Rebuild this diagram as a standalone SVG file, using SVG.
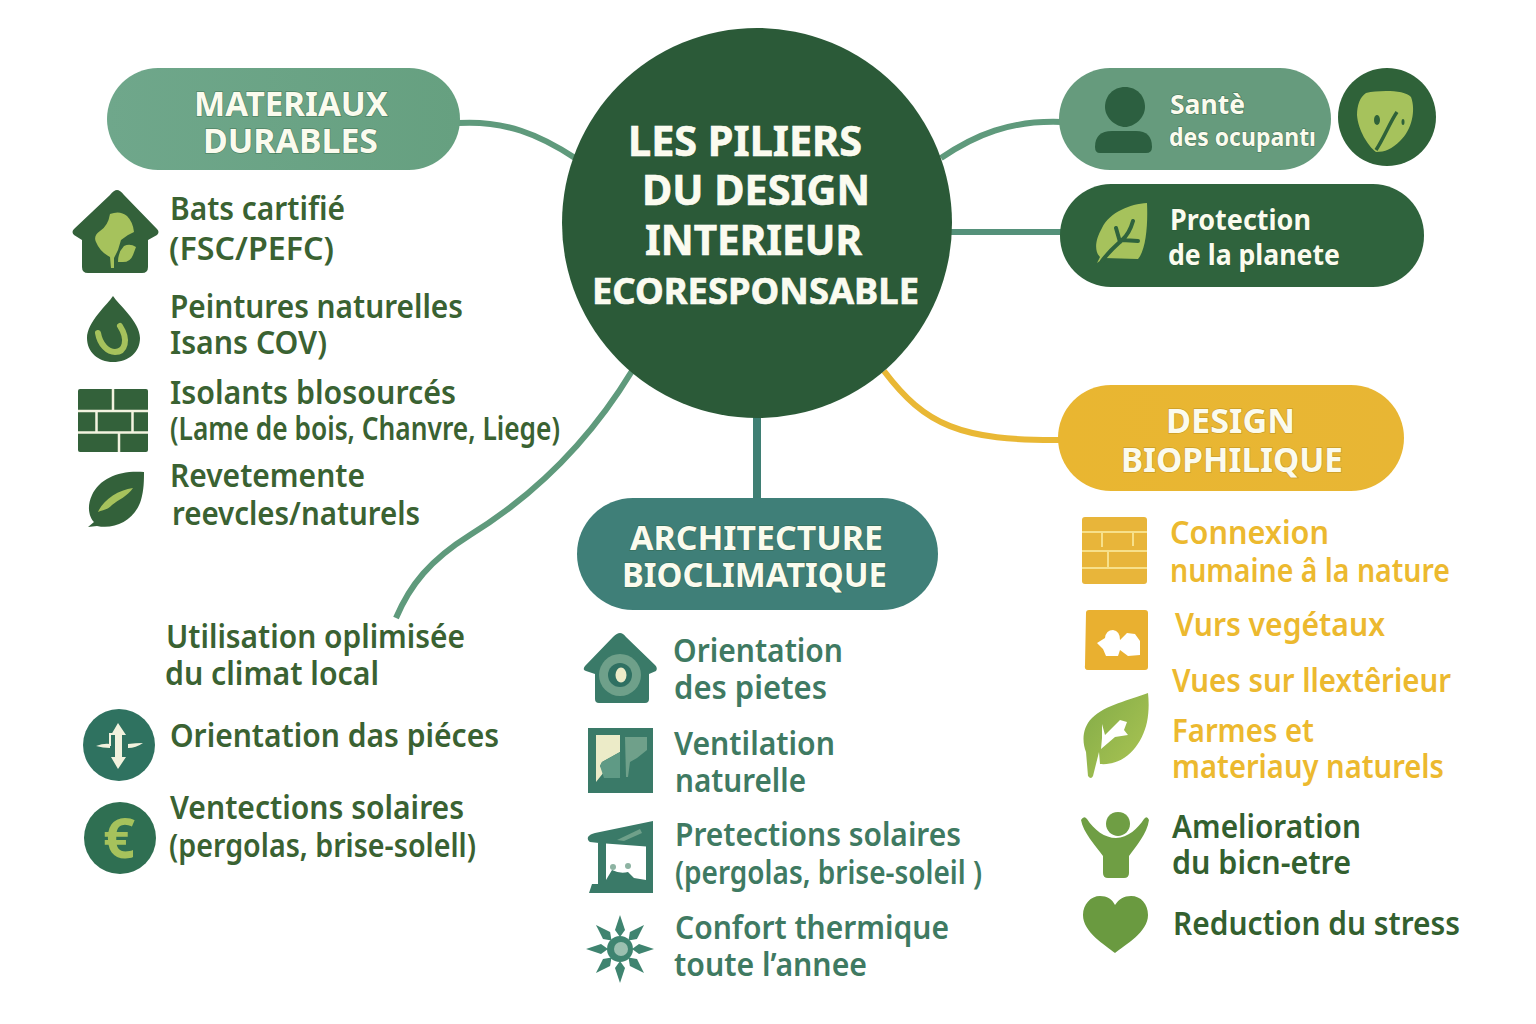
<svg xmlns="http://www.w3.org/2000/svg" width="1536" height="1024" viewBox="0 0 1536 1024">
<style>
text{font-family:"Noto Sans","Open Sans","Liberation Sans",sans-serif;font-weight:600}
.g{fill:#3a6232;font-size:32px}
.t{fill:#3f7a62;font-size:32px}
.y{fill:#ecb92f;font-size:32px}
.d{fill:#33602f;font-size:32px}
.p{fill:#fbfbee;font-size:34px;font-weight:700;stroke:#2c5a3a;stroke-opacity:.45;stroke-width:1.4px;paint-order:stroke}
.s{fill:#fbfbee;font-weight:700;stroke:#23502f;stroke-opacity:.5;stroke-width:1.2px;paint-order:stroke}
.c{fill:#fbfbee;font-weight:700;stroke:#fff;stroke-width:.6px}
.con{fill:none;stroke-linecap:butt}
.lt{fill:#a6c25c}
.dg{fill:#33613a}
.tl{fill:#3a7a68}
</style>
<defs>
<linearGradient id="sage" x1="0" y1="0" x2="1" y2="0"><stop offset="0" stop-color="#6fa78b"/><stop offset="1" stop-color="#66a080"/></linearGradient>
<linearGradient id="yel" x1="0" y1="0" x2="1" y2="0"><stop offset="0" stop-color="#e9b631"/><stop offset="1" stop-color="#e8b634"/></linearGradient>
<linearGradient id="leaf" x1="0" y1="0" x2="1" y2="1"><stop offset="0" stop-color="#82ab48"/><stop offset="1" stop-color="#adc653"/></linearGradient>
</defs>

<g id="connectors">
<path class="con" stroke="#5f9a7c" stroke-width="6" d="M458 123C505 120 540 135 575 158"/>
<path class="con" stroke="#5f9a7c" stroke-width="6" d="M941 158C975 135 1010 120 1062 122"/>
<path class="con" stroke="#55917a" stroke-width="6" d="M950 232H1062"/>
<path class="con" stroke="#e9b835" stroke-width="6" d="M884 371C925 425 960 441 1062 440"/>
<path class="con" stroke="#3f7f74" stroke-width="8" d="M757 416V500"/>
<path class="con" stroke="#5f9a7c" stroke-width="6" d="M632 371C590 440 535 495 470 535C430 560 410 585 396 618"/>
</g>

<g id="center">
<circle cx="757" cy="223" r="195" fill="#2b5a38"/>
<text class="c" x="628" y="156" font-size="42" textLength="234" lengthAdjust="spacingAndGlyphs">LES PILIERS</text>
<text class="c" x="642" y="205" font-size="42" textLength="228" lengthAdjust="spacingAndGlyphs">DU DESIGN</text>
<text class="c" x="645" y="255" font-size="42" textLength="217" lengthAdjust="spacingAndGlyphs">INTERIEUR</text>
<text class="c" x="592" y="304" font-size="36" textLength="327" lengthAdjust="spacingAndGlyphs">ECORESPONSABLE</text>
</g>

<g id="materiaux">
<rect x="107" y="68" width="353" height="102" rx="51" fill="url(#sage)"/>
<text class="p" x="194" y="116" textLength="194" lengthAdjust="spacingAndGlyphs">MATERIAUX</text>
<text class="p" x="203" y="153" textLength="175" lengthAdjust="spacingAndGlyphs">DURABLES</text>
</g>

<g id="sante">
<rect x="1059" y="68" width="272" height="102" rx="51" fill="#669b7d"/>
<path d="M1125 87C1137 87 1145 96 1145 107C1145 118 1134 127 1125 127C1116 127 1105 118 1105 107C1105 96 1113 87 1125 87Z" fill="#2c5f40"/>
<path d="M1095 147Q1095 131 1112 131H1136Q1152 131 1152 147Q1152 153 1146 153H1100Q1095 153 1095 147Z" fill="#2c5f40"/>
<text class="s" x="1170" y="114" font-size="26" textLength="75" lengthAdjust="spacingAndGlyphs">Santè</text>
<text class="s" x="1169" y="146" font-size="25" textLength="147" lengthAdjust="spacingAndGlyphs">des ocupantı</text>
</g>

<g id="sante-badge">
<circle cx="1387" cy="117" r="49" fill="#2f6239"/>
<path class="lt" d="M1366 93C1380 90 1405 90 1411 97C1416 110 1412 130 1400 141C1392 149 1385 152 1376 152C1368 146 1358 130 1357 115C1357 105 1360 97 1366 93Z"/>
<path d="M1376 150C1384 138 1390 122 1397 112" stroke="#2f6239" stroke-width="3.5" fill="none"/>
<ellipse cx="1377" cy="120" rx="3" ry="5" fill="#2f6239"/>
<ellipse cx="1403" cy="122" rx="1.5" ry="3" fill="#2f6239"/>
</g>

<g id="protection">
<rect x="1060" y="184" width="364" height="103" rx="51" fill="#2f633d"/>
<path class="lt" d="M1147 203C1130 204 1110 212 1102 228C1094 242 1095 252 1100 257L1097 263L1104 258L1138 259C1146 250 1148 225 1147 203Z"/>
<path d="M1102 261C1110 250 1118 244 1122 240C1128 235 1131 228 1133 221M1122 240L1138 241M1120 242L1116 228" stroke="#2f633d" stroke-width="4" stroke-linecap="round" fill="none"/>
<text class="s" x="1170" y="230" font-size="29" textLength="141" lengthAdjust="spacingAndGlyphs">Protection</text>
<text class="s" x="1168" y="265" font-size="29" textLength="172" lengthAdjust="spacingAndGlyphs">de la planete</text>
</g>

<g id="biophilique">
<rect x="1058" y="385" width="346" height="106" rx="53" fill="url(#yel)"/>
<text class="p" x="1166" y="433" font-size="35" textLength="129" lengthAdjust="spacingAndGlyphs" style="stroke:#a67c1c">DESIGN</text>
<text class="p" x="1121" y="472" font-size="35" textLength="222" lengthAdjust="spacingAndGlyphs" style="stroke:#a67c1c">BIOPHILIQUE</text>
</g>

<g id="architecture">
<rect x="577" y="498" width="361" height="112" rx="56" fill="#3f7f78"/>
<text class="p" x="630" y="550" textLength="253" lengthAdjust="spacingAndGlyphs">ARCHITECTURE</text>
<text class="p" x="622" y="587" textLength="265" lengthAdjust="spacingAndGlyphs">BIOCLIMATIQUE</text>
</g>

<g id="item-bats">
<path class="dg" d="M117 190Q114 190 110 195L74 229Q71 232 74 235L82 240V267Q82 273 88 273H142Q148 273 148 267V240L157 235Q160 232 157 229L124 195Q120 190 117 190Z"/>
<path class="lt" d="M110 214Q120 210 127 216Q133 222 134 232L128 235L121 240L118 250L114 258V268H111L110 257Q100 252 96 242Q93 236 100 231Q108 226 110 214Z"/>
<path class="lt" d="M124 246Q130 243 136 247L133 255Q130 263 121 262L118 262Q118 252 124 246Z"/>
<text class="g" x="170" y="220" textLength="175" lengthAdjust="spacingAndGlyphs">Bats cartifié</text>
<text class="g" x="169" y="260" textLength="165" lengthAdjust="spacingAndGlyphs">(FSC/PEFC)</text>
</g>
<g id="item-peintures">
<path class="dg" d="M113 296C108 304 87 322 87 338C87 352 98 362 113 362C129 362 140 352 140 338C140 322 118 304 113 296Z"/>
<path d="M98 333C100 345 108 352 115 352C125 352 129 340 120 326" fill="none" stroke="#a6c25c" stroke-width="6" stroke-linecap="round"/>
<text class="g" x="170" y="318" textLength="293" lengthAdjust="spacingAndGlyphs">Peintures naturelles</text>
<text class="g" x="170" y="354" textLength="157" lengthAdjust="spacingAndGlyphs">Isans COV)</text>
</g>
<g id="item-isolants">
<rect x="78" y="389" width="70" height="63" rx="2" class="dg"/>
<path d="M78 411H148M78 432.500H148M113 389V411M96.500 411V432.500M132.500 411V432.500M119 432.500V452" stroke="#f3f3e0" stroke-width="2.500" fill="none"/>
<text class="g" x="170" y="404" textLength="286" lengthAdjust="spacingAndGlyphs">Isolants blosourcés</text>
<text class="g" x="170" y="440" font-size="30" textLength="390" lengthAdjust="spacingAndGlyphs">(Lame de bois, Chanvre, Liege)</text>
</g>
<g id="item-revetement">
<path class="dg" d="M144 472C120 470 100 478 92 495C86 508 90 518 94 522L88 527L97 526C115 530 135 520 141 500C144 490 144 480 144 472Z"/>
<path class="lt" d="M98 512C103 500 118 490 133 488C128 496 118 500 112 505C108 510 102 510 98 512Z"/>
<text class="g" x="170" y="487" textLength="195" lengthAdjust="spacingAndGlyphs">Revetemente</text>
<text class="g" x="172" y="525" textLength="248" lengthAdjust="spacingAndGlyphs">reevcles/naturels</text>
</g>

<g id="item-utilisation">
<text class="g" x="166" y="648" textLength="299" lengthAdjust="spacingAndGlyphs">Utilisation oplimisée</text>
<text class="g" x="165" y="685" textLength="214" lengthAdjust="spacingAndGlyphs">du climat local</text>
</g>
<g id="item-orientation-pieces">
<circle cx="119" cy="745" r="36" fill="#2f7260"/>
<path d="M118 723L111 735H115V757H111L118 769L126 757H122V735H126Z" fill="#f2f2de"/>
<path d="M96 746Q104 743 110 744V748Q103 748 96 746ZM128 744Q136 743 143 743Q136 748 128 748Z" fill="#f2f2de"/>
<path d="M110 746V734H115" fill="none" stroke="#f2f2de" stroke-width="2"/>
<text class="g" x="170" y="747" textLength="329" lengthAdjust="spacingAndGlyphs">Orientation das piéces</text>
</g>
<g id="item-ventections">
<circle cx="120" cy="838" r="36" fill="#2f6f52"/>
<text x="119" y="858" font-size="56" text-anchor="middle" fill="#a6c25c" style="font-weight:700">€</text>
<text class="g" x="170" y="819" textLength="294" lengthAdjust="spacingAndGlyphs">Ventections solaires</text>
<text class="g" x="169" y="857" textLength="307" lengthAdjust="spacingAndGlyphs">(pergolas, brise-solell)</text>
</g>

<g id="item-orientation">
<path class="tl" d="M620 633Q617 633 613 637L585 666Q582 670 586 671L595 674V699Q595 703 599 703H645Q649 703 649 699V674L656 671Q658 668 655 665L626 637Q623 633 620 633Z"/>
<circle cx="620" cy="675" r="21" fill="#6fa08a"/>
<circle cx="620" cy="675" r="12" fill="#2f7062"/>
<ellipse cx="621" cy="675" rx="5.500" ry="7.500" fill="#ecebc8"/>
<text class="t" x="673" y="662" textLength="170" lengthAdjust="spacingAndGlyphs">Orientation</text>
<text class="t" x="674" y="699" textLength="153" lengthAdjust="spacingAndGlyphs">des pietes</text>
</g>
<g id="item-ventilation">
<rect x="588" y="728" width="65" height="65" class="tl"/>
<path d="M596 735H620V752L602 762L600 766L604 772L596 782Z" fill="#ecebc8"/>
<path d="M620 752V778L604 778L600 766L602 762Z" fill="#5f9a85"/>
<path d="M625 737H647V750L637 758L630 762L628 777H626Z" fill="#6fa08a"/>
<text class="t" x="674" y="755" textLength="161" lengthAdjust="spacingAndGlyphs">Ventilation</text>
<text class="t" x="675" y="792" textLength="131" lengthAdjust="spacingAndGlyphs">naturelle</text>
</g>
<g id="item-protections">
<path class="tl" d="M588 837Q590 834 595 833L653 821V847L599 843L590 842Q587 840 588 837Z"/>
<path d="M617 840L640 829L642 833L624 841Z" fill="#6fa08a"/>
<path class="tl" d="M598 843H606V880H646V845H653V893H589L592 884H598Z"/>
<path d="M606 880L612 870Q620 874 628 872L634 878L646 880Z" fill="#3a7a68"/>
<circle cx="628" cy="866" r="3" fill="#8db3a2"/>
<circle cx="613" cy="867" r="3" fill="#8db3a2"/>
<text class="t" x="675" y="846" textLength="286" lengthAdjust="spacingAndGlyphs">Pretections solaires</text>
<text class="t" x="675" y="884" textLength="307" lengthAdjust="spacingAndGlyphs">(pergolas, brise-soleil )</text>
</g>
<g id="item-confort">
<g fill="#3f8470">
<path d="M620 915L625 930L620 937L615 930Z"/>
<path d="M620 915L625 930L620 937L615 930Z" transform="rotate(45 620 949)"/>
<path d="M620 915L625 930L620 937L615 930Z" transform="rotate(90 620 949)"/>
<path d="M620 915L625 930L620 937L615 930Z" transform="rotate(135 620 949)"/>
<path d="M620 915L625 930L620 937L615 930Z" transform="rotate(180 620 949)"/>
<path d="M620 915L625 930L620 937L615 930Z" transform="rotate(225 620 949)"/>
<path d="M620 915L625 930L620 937L615 930Z" transform="rotate(270 620 949)"/>
<path d="M620 915L625 930L620 937L615 930Z" transform="rotate(315 620 949)"/>
<circle cx="620" cy="949" r="13"/>
</g>
<circle cx="621" cy="949" r="7" fill="#9cc0b0"/>
<text class="t" x="675" y="939" textLength="274" lengthAdjust="spacingAndGlyphs">Confort thermique</text>
<text class="t" x="674" y="976" textLength="193" lengthAdjust="spacingAndGlyphs">toute l’annee</text>
</g>

<g id="item-connexion">
<rect x="1082" y="517" width="65" height="67" rx="3" fill="#e8b53a"/>
<path d="M1082 532H1147M1082 551H1147M1082 568H1147M1102 532V547M1133 532V546M1108 551V567" stroke="#f7e08a" stroke-width="2" fill="none"/>
<text class="y" x="1170" y="544" textLength="159" lengthAdjust="spacingAndGlyphs">Connexion</text>
<text class="y" x="1170" y="582" textLength="280" lengthAdjust="spacingAndGlyphs">numaine â la nature</text>
</g>
<g id="item-vues">
<path d="M1089 610H1145Q1148 610 1148 613V667Q1148 670 1145 670H1088Q1084 670 1085 665L1086 613Q1086 610 1089 610Z" fill="#e9b030"/>
<path d="M1097 643L1105 638Q1106 630 1113 630Q1120 631 1120 640L1127 633L1135 634L1140 641V655L1128 656L1120 650L1118 656H1106L1103 649Z" fill="#fff"/>
<text class="y" x="1175" y="636" textLength="210" lengthAdjust="spacingAndGlyphs">Vurs vegétaux</text>
<text class="y" x="1172" y="692" textLength="279" lengthAdjust="spacingAndGlyphs">Vues sur llextêrieur</text>
</g>
<g id="item-farmes">
<path fill="url(#leaf)" d="M1148 693C1130 700 1105 705 1092 718C1082 728 1082 742 1086 752L1088 776Q1091 780 1093 776L1099 752L1100 764C1125 766 1142 745 1147 722C1149 712 1149 702 1148 693Z"/>
<path d="M1102 724L1105 735L1120 720L1127 722L1124 730L1128 735L1115 737L1101 749L1102 738Z" fill="#fff"/>
<text class="y" x="1172" y="742" textLength="142" lengthAdjust="spacingAndGlyphs">Farmes et</text>
<text class="y" x="1172" y="778" textLength="272" lengthAdjust="spacingAndGlyphs">materiauy naturels</text>
</g>
<g id="item-amelioration">
<path d="M1118 812C1126 812 1130 818 1130 824C1130 831 1124 836 1118 836C1112 836 1106 831 1106 824C1106 818 1110 812 1118 812Z" fill="#6f9e44"/>
<path d="M1081 820Q1084 815 1087 819C1094 830 1105 838 1116 838C1128 838 1138 828 1144 819Q1147 815 1149 820C1147 834 1136 846 1129 856V873Q1129 878 1124 878H1108Q1103 878 1103 873V856C1095 845 1083 832 1081 820Z" fill="#6f9e44"/>
<text class="d" x="1172" y="838" textLength="189" lengthAdjust="spacingAndGlyphs">Amelioration</text>
<text class="d" x="1172" y="874" textLength="179" lengthAdjust="spacingAndGlyphs">du bicn-etre</text>
</g>
<g id="item-reduction">
<path d="M1115 953C1105 945 1083 932 1083 915C1083 904 1091 896 1100 896C1107 896 1112 899 1115 905C1119 899 1124 896 1131 896C1141 896 1148 904 1148 915C1148 932 1125 945 1115 953Z" fill="#6a9a40"/>
<text class="d" x="1173" y="935" textLength="287" lengthAdjust="spacingAndGlyphs">Reduction du stress</text>
</g>
</svg>
